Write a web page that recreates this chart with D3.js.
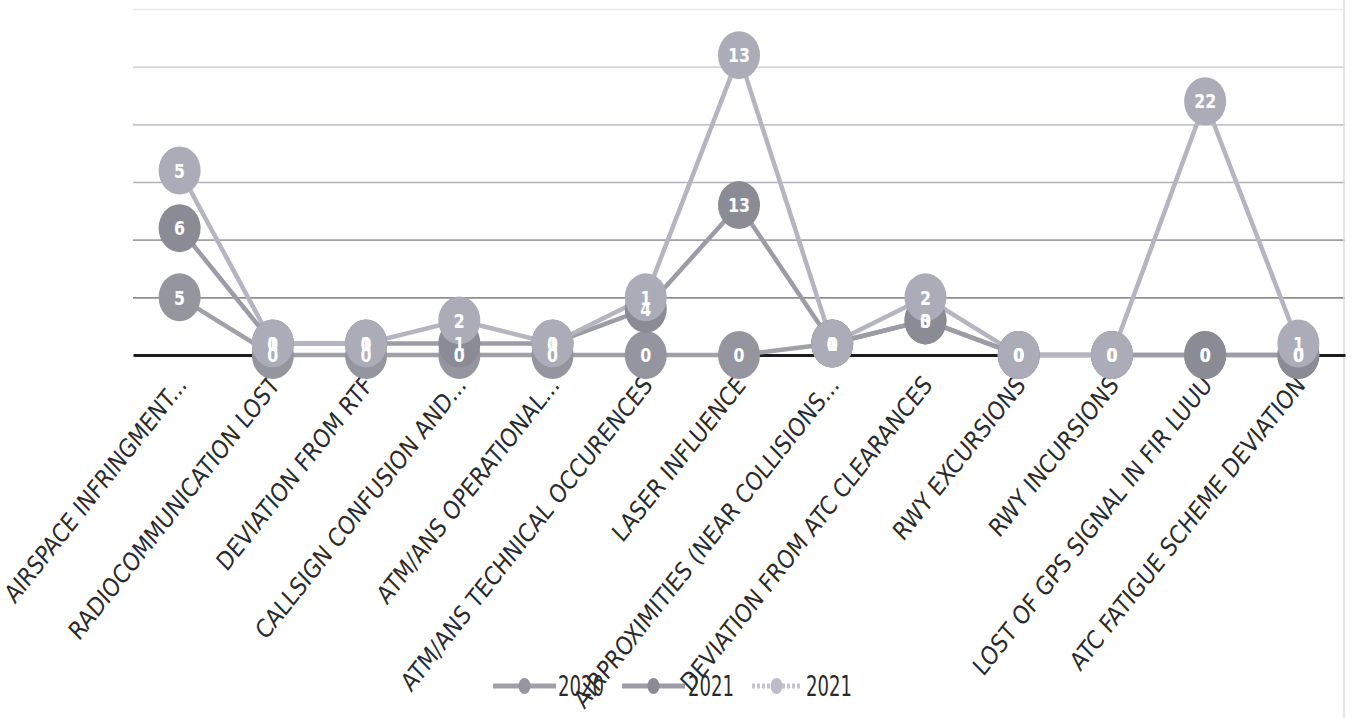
<!DOCTYPE html>
<html>
<head>
<meta charset="utf-8">
<script src="https://cdn.jsdelivr.net/npm/d3@7"></script>
<style>
  html, body { margin: 0; padding: 0; background: #ffffff; }
  svg { display: block; }
</style>
</head>
<body>
<svg id="chart" width="1353" height="718"></svg>
<script>
// ---- data ----
const categories = [
  "AIRSPACE INFRINGMENT...",
  "RADIOCOMMUNICATION LOST",
  "DEVIATION FROM RTF",
  "CALLSIGN CONFUSION AND...",
  "ATM/ANS OPERATIONAL...",
  "ATM/ANS TECHNICAL OCCURENCES",
  "LASER INFLUENCE",
  "AIRPROXIMITIES (NEAR COLLISIONS...",
  "DEVIATION FROM ATC CLEARANCES",
  "RWY EXCURSIONS",
  "RWY INCURSIONS",
  "LOST OF GPS SIGNAL IN FIR LUUU",
  "ATC FATIGUE SCHEME DEVIATION"
];
const values2020  = [5, 0, 0, 0, 0, 0, 0, 1, 3, 0, 0, 0, 0];
const values2021  = [6, 1, 1, 1, 1, 4, 13, 0, 0, 0, 0, 0, 0];
const values2021b = [5, 0, 0, 2, 0, 1, 13, 0, 2, 0, 0, 22, 1];
const seriesNames = ["2020", "2021", "2021"];
const yTicks = [5, 10, 15, 20, 25, 30];

// ---- layout / style ----
const W = 1353, H = 718;
const plot = { left: 133, right: 1345, top: 9, bottom: 355 };
const STRETCH = 1.14;
const FONT = "'Liberation Sans Narrow','DejaVu Sans Condensed','Liberation Sans',sans-serif";
const markerFill = ["#9595a0", "#8b8b95", "#acacb9"];
const lineColor  = ["#a0a0a9", "#9c9ca6", "#b5b5c2"];

const svg = d3.select("#chart");
svg.append("rect").attr("width", W).attr("height", H).attr("fill", "#fff");

function fitSize(text, target, weight) {
  const t = svg.append("text").attr("font-family", FONT).attr("font-size", 100)
    .attr("font-weight", weight || "normal").text(text);
  const L = t.node().getComputedTextLength();
  t.remove();
  return 100 * target / L;
}

const rows = categories.map((c, i) => ({ cat: c, 0: values2020[i], 1: values2021[i], 2: values2021b[i] }));
const stacked = d3.stack().keys([0, 1, 2])(rows);

const x = d3.scaleBand().domain(categories).range([plot.left, plot.right]);
const cx = c => x(c) + x.bandwidth() / 2;
const y = d3.scaleLinear().domain([0, 30]).range([plot.bottom, plot.top]);

// gridlines
const gridCol = d3.scaleLinear().domain([5, 30]).range(["#8e8e92", "#e8e8f0"]);
const grid = svg.append("g").attr("transform", `translate(${plot.left},0)`)
  .call(d3.axisLeft(y).tickValues(yTicks).tickSize(-(plot.right - plot.left)).tickFormat(""));
grid.select(".domain").remove();
grid.selectAll(".tick line").attr("stroke", d => gridCol(d)).attr("stroke-width", 1.6);

// vertical border at right
svg.append("line").attr("x1", 1344).attr("x2", 1344).attr("y1", 0).attr("y2", H)
  .attr("stroke", "#dcdce2").attr("stroke-width", 1.5);

// category axis
const labelSize = fitSize("ATC FATIGUE SCHEME DEVIATION", 338);
const xAxis = svg.append("g").attr("transform", `translate(0,${plot.bottom})`)
  .call(d3.axisBottom(x).tickSize(0));
xAxis.select(".domain").attr("stroke", "#1c1c1c").attr("stroke-width", 3);
xAxis.selectAll(".tick text")
  .attr("x", 0).attr("y", 0).attr("dy", 0)
  .attr("text-anchor", "end")
  .attr("font-family", FONT).attr("font-size", labelSize)
  .attr("fill", "#2a2a2a")
  .attr("transform", `translate(8,31) scale(1,${STRETCH}) rotate(-48)`)
  .each(function (d, i) {
    // keep the first label inside the left edge, as in the reference
    const L = this.getComputedTextLength();
    if (d === categories[0] && L > 258) {
      d3.select(this).attr("textLength", 258).attr("lengthAdjust", "spacingAndGlyphs");
    }
  });

// lines
const line = d3.line().x(d => cx(d.data.cat)).y(d => y(d[1]));
svg.append("g").selectAll("path").data(stacked).join("path")
  .attr("d", line).attr("fill", "none")
  .attr("stroke", (s, i) => lineColor[i]).attr("stroke-width", 4.5)
  .attr("stroke-linejoin", "round");

// markers
const mk = svg.append("g");
stacked.forEach((s, i) => {
  mk.append("g").selectAll("ellipse").data(s).join("ellipse")
    .attr("cx", d => cx(d.data.cat)).attr("cy", d => y(d[1]))
    .attr("rx", 21).attr("ry", 24)
    .attr("fill", markerFill[i]);
});

// value labels
const valSize = fitSize("13", 22, "bold");
stacked.forEach((s, i) => {
  mk.append("g").selectAll("text").data(s).join("text")
    .attr("transform", d => `translate(${cx(d.data.cat)},${y(d[1])}) scale(1,${STRETCH})`)
    .attr("text-anchor", "middle").attr("dy", "0.36em")
    .attr("font-family", FONT).attr("font-weight", "bold").attr("font-size", valSize)
    .attr("fill", "#ffffff")
    .text(d => d[1] - d[0]);
});

// legend
const legendItems = [
  { x1: 493, x2: 556, tx: 558 },
  { x1: 622, x2: 685, tx: 688 },
  { x1: 752, x2: 801, tx: 806 }
];
const legY = 686;
const leg = svg.append("g");
seriesNames.forEach((name, i) => {
  const it = legendItems[i];
  leg.append("line").attr("x1", it.x1).attr("x2", it.x2).attr("y1", legY).attr("y2", legY)
    .attr("stroke", i === 2 ? "#c4c4d0" : lineColor[i]).attr("stroke-width", 5)
    .attr("stroke-dasharray", i === 2 ? "3,2" : null);
  leg.append("ellipse").attr("cx", (it.x1 + it.x2) / 2).attr("cy", legY)
    .attr("rx", 6).attr("ry", 8).attr("fill", i === 2 ? "#bdbdca" : markerFill[i]);
  leg.append("text")
    .attr("transform", `translate(${it.tx},${legY}) scale(1,${STRETCH})`)
    .attr("dy", "0.36em")
    .attr("font-family", FONT).attr("font-size", 25).attr("fill", "#2a2a2a")
    .attr("textLength", 46).attr("lengthAdjust", "spacingAndGlyphs")
    .text(name);
});
</script>
</body>
</html>
